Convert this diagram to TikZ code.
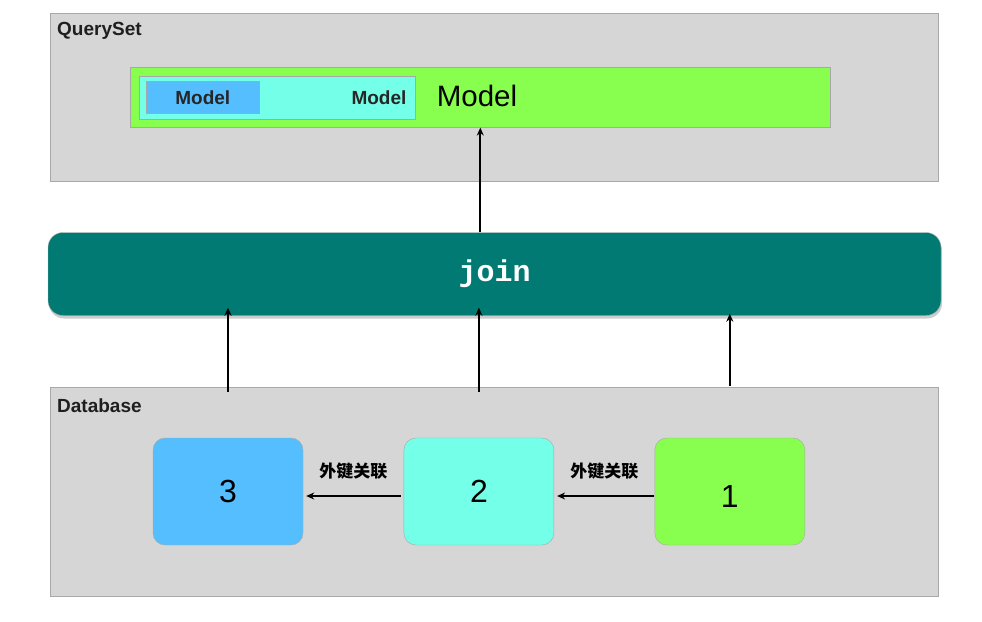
\documentclass[tikz,border=0pt]{standalone}
\usepackage{fontspec}
\setmainfont{Liberation Sans}
\newfontfamily\joinfont{Liberation Mono}
\newfontfamily\cjk{Noto Sans CJK SC}
\usepackage{tikz}
\usetikzlibrary{positioning,arrows.meta,shadows}

\definecolor{panelgray}{HTML}{D6D6D6}
\definecolor{panelline}{HTML}{A8A8A8}
\definecolor{modelgreen}{HTML}{88FF4F}
\definecolor{modelcyan}{HTML}{74FFE8}
\definecolor{modelblue}{HTML}{55BEFF}
\definecolor{jointeal}{HTML}{007A72}

\begin{document}
\begin{tikzpicture}[x=1pt, y=-1pt,
    panel/.style={rectangle, draw=panelline, fill=panelgray, anchor=north west, minimum width=888pt},
    tag/.style={anchor=base west, inner sep=0pt, text=black!88, font=\fontsize{19}{22}\selectfont\bfseries},
    barbox/.style={rectangle, draw=panelline, fill=#1, anchor=north west, line width=0.6pt},
    tablebox/.style={rectangle, rounded corners=12pt, draw=panelline, fill=#1, minimum width=150pt, minimum height=107pt, font=\fontsize{32}{36}\selectfont},
    link/.style={-{Stealth[length=8pt, width=7pt]}, line width=1.7pt},
    fk/.style={font=\cjk\fontsize{17}{20}\selectfont\bfseries},
    node distance=100.5pt
]
    \useasboundingbox (0,0) rectangle (982,621);

    % QuerySet
    \node[panel, minimum height=168pt] (queryset) at (50,13) {};
    \node[tag] at ([shift={(7pt,-22.5pt)}]queryset.north west) {QuerySet};
    \node[barbox=modelgreen, minimum width=700pt, minimum height=60pt] (modelbar) at (130,67) {};
    \node[barbox=modelcyan, minimum width=276pt, minimum height=43pt] (modelpair) at (139,76) {};
    \node[barbox=modelblue, minimum width=113pt, minimum height=32pt, text=black!85, font=\fontsize{19}{22}\selectfont\bfseries] (modelinner) at (146,81) {Model};
    \node[tag, anchor=east, text=black!85] (modelmid) at ([xshift=-9pt]modelpair.east) {Model};
    \node[anchor=west, inner sep=0pt, font=\fontsize{29.5}{32}\selectfont] (modeltitle) at ([shift={(21pt,1.5pt)}]modelpair.east) {Model};

    % join
    \node[rectangle, rounded corners=15pt, draw=black!30, fill=jointeal, minimum width=893pt, minimum height=83pt,
          drop shadow={shadow xshift=1pt, shadow yshift=-3pt, opacity=0.4}, text=white,
          font=\joinfont\fontsize{30}{32}\selectfont\bfseries] (join) at (494.5,274) {join};
    \draw[link] (join.north -| modelbar) -- (modelbar.south);

    % Database
    \node[panel, minimum height=209pt] (database) at (50,387) {};
    \node[tag] at ([shift={(7pt,-25pt)}]database.north west) {Database};
    \node[tablebox=modelblue] (n3) at (228,491.5) {3};
    \node[tablebox=modelcyan, right=of n3] (n2) {2};
    \node[tablebox=modelgreen, right=of n2, text height=31pt, text depth=0pt] (n1) {1};

    \draw[link, shorten <=3pt, shorten >=3pt] ([yshift=-4.5pt]n2.west) -- node[fk, midway, yshift=25pt] {外键关联} ([yshift=-4.5pt]n3.east);
    \draw[link, shorten <=1pt, shorten >=3pt] ([yshift=-4.5pt]n1.west) -- node[fk, midway, yshift=25pt] {外键关联} ([yshift=-4.5pt]n2.east);

    \foreach \t/\s/\e in {n3/-5pt/-8pt, n2/-5pt/-8pt, n1/1pt/-2pt}
        \draw[link, shorten <=\s, shorten >=\e] (database.north -| \t) -- (join.south -| \t);
\end{tikzpicture}
\end{document}
